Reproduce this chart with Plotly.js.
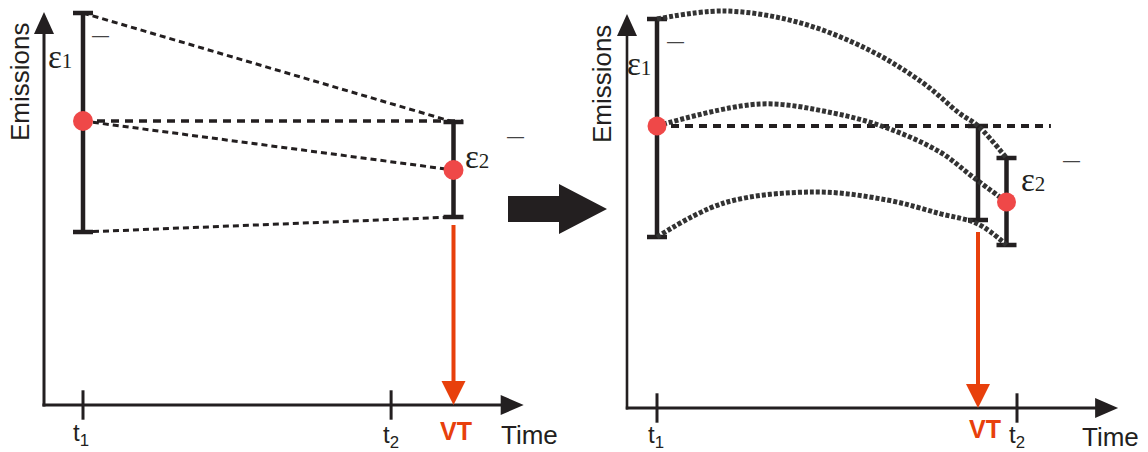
<!DOCTYPE html>
<html>
<head>
<meta charset="utf-8">
<script src="https://cdn.plot.ly/plotly-3.0.1.min.js"></script>
<style>html,body{margin:0;padding:0;background:#fff;}</style>
</head>
<body>
<div id="chart" style="width:1148px;height:452px;"></div>
<script>
// ---------------- DATA ----------------
// Left panel: linear projection
const tickTimesL = [1, 8.9];
const tickLabelsL = ['t<sub>1</sub>', 't<sub>2</sub>'];
const barTimesL = [1, 10.5];
const barMeansL = [71, 58.75];
const barUpperL = [98, 70.75];
const barLowerL = [43.25, 47];
const vtTimeL = 10.5;
const refLineEndL = 10.74;

// Right panel: curved projection
const tickTimesR = [1, 13];
const tickLabelsR = ['t<sub>1</sub>', 't<sub>2</sub>'];
const barTimesR = [1, 11.7, 12.65];
const barUpperR = [97.25, 70.5, 62.5];
const barLowerR = [42.75, 47, 40.75];
const dotTimesR = [1, 12.65];
const dotMeansR = [70.5, 51.5];
const vtTimeR = 11.7;
const refLineEndR = 14.13;
const topCurveT = [1, 3.23, 5.67, 8.07, 9.87, 11.07, 11.7, 12.65];
const topCurveE = [97.25, 99.25, 96.5, 89.5, 81.25, 73.75, 70.5, 62.5];
const midCurveT = [1, 4.43, 6.87, 8.67, 10.43, 11.53, 12.65];
const midCurveE = [70.5, 76, 73.75, 70, 64, 57.75, 51.5];
const lowCurveT = [1, 3.23, 6.27, 8.67, 10.43, 11.7, 12.65];
const lowCurveE = [42.75, 51.25, 54, 52, 48.6, 46, 40.75];

const axisTitleY = 'Emissions';
const axisTitleX = 'Time';
const vtLabel = 'VT';

// ---------------- STYLE ----------------
const INK = '#231f20';
const CURVE = '#333333';
const DOT = '#ef4848';
const VTRED = '#e8400c';

const traces = [];

function line(xs, ys, xa, ya, dash, width, color, shape) {
  traces.push({x: xs, y: ys, xaxis: xa, yaxis: ya, mode: 'lines', hoverinfo: 'skip',
    line: {color: color, width: width, dash: dash, shape: shape || 'linear', smoothing: 1.0}});
}
function errBars(ts, up, lo, xa, ya) {
  const mid = up.map((u, i) => (u + lo[i]) / 2);
  traces.push({x: ts, y: mid, xaxis: xa, yaxis: ya, mode: 'markers', hoverinfo: 'skip',
    marker: {color: 'rgba(0,0,0,0)', size: 1},
    error_y: {type: 'data', symmetric: false,
      array: up.map((u, i) => u - mid[i]), arrayminus: lo.map((l, i) => mid[i] - l),
      color: INK, thickness: 4.5, width: 10}});
}
function dots(ts, ms, xa, ya, size) {
  traces.push({x: ts, y: ms, xaxis: xa, yaxis: ya, mode: 'markers', hoverinfo: 'skip',
    marker: {color: DOT, size: size}});
}
function ticks(ts, xa, ya) {
  traces.push({x: ts, y: ts.map(() => 0), xaxis: xa, yaxis: ya, mode: 'markers', hoverinfo: 'skip',
    marker: {symbol: 'line-ns-open', size: 21, color: INK, line: {color: INK, width: 3}}});
}

// Left panel
line([barTimesL[0], barTimesL[1]], [barUpperL[0], barUpperL[1]], 'x', 'y', '6px,4px', 3, INK);
line([barTimesL[0], refLineEndL], [barMeansL[0], barMeansL[0]], 'x', 'y', '8px,6px', 3.5, INK);
line([barTimesL[0], barTimesL[1]], [barMeansL[0], barMeansL[1]], 'x', 'y', '6px,4px', 3, INK);
line([barTimesL[0], barTimesL[1]], [barLowerL[0], barLowerL[1]], 'x', 'y', '6px,4px', 3, INK);
errBars(barTimesL, barUpperL, barLowerL, 'x', 'y');
dots(barTimesL, barMeansL, 'x', 'y', 20);
ticks(tickTimesL, 'x', 'y');

// Right panel
line([dotTimesR[0], refLineEndR], [dotMeansR[0], dotMeansR[0]], 'x2', 'y2', '8px,6px', 4, INK);
errBars(barTimesR, barUpperR, barLowerR, 'x2', 'y2');
line(topCurveT, topCurveE, 'x2', 'y2', '4px,2px', 5, CURVE, 'spline');
line(midCurveT, midCurveE, 'x2', 'y2', '4px,2px', 5, CURVE, 'spline');
line(lowCurveT, lowCurveE, 'x2', 'y2', '4px,2px', 5, CURVE, 'spline');
dots(dotTimesR, dotMeansR, 'x2', 'y2', 19);
ticks(tickTimesR, 'x2', 'y2');

// ---------------- LAYOUT ----------------
const W = 1148, H = 452;
const px = v => v / W, py = v => 1 - v / H;
// pixels per data unit on each axis (from the axis ranges below)
const SCALE = {x: 39, y: 4, x2: 30, y2: 4};

const shapes = [];
// axis-aligned arrow: a line in data units plus a triangular head sized in pixels
function arrow(xa, ya, x0, y0, x1, y1, color, width, headW, headL) {
  const dx = Math.sign(x1 - x0), dy = Math.sign(y1 - y0);
  const ex = x1 - dx * (headL - 1) / SCALE[xa];
  const ey = y1 - dy * (headL - 1) / SCALE[ya];
  shapes.push({type: 'line', xref: xa, yref: ya, x0: x0, y0: y0, x1: ex, y1: ey,
    line: {color: color, width: width}});
  const h = headW / 2;
  let path;
  if (dy !== 0) path = `M0,0L${-h},${-dy * headL}L${h},${-dy * headL}Z`;
  else path = `M0,0L${-dx * headL},${h}L${-dx * headL},${-h}Z`;
  shapes.push({type: 'path', xref: xa, yref: ya, xsizemode: 'pixel', ysizemode: 'pixel',
    xanchor: x1, yanchor: y1, path: path, fillcolor: color, line: {width: 0}});
}
function label(xa, ya, x, y, text, font, extra) {
  return Object.assign({xref: xa, yref: ya, x: x, y: y, text: text, showarrow: false,
    xanchor: 'center', yanchor: 'middle', font: font}, extra || {});
}
const sans = (s, c, w) => ({family: 'Liberation Sans, Arial, sans-serif', size: s, color: c || INK, weight: w || 'normal'});
const serif = s => ({family: 'Liberation Serif, Times New Roman, serif', size: s, color: INK});
const eps = n => 'ε<span style="font-size:21px">' + n + '</span>';

// left axes + VT arrow
arrow('x', 'y', 0, -0.4, 0, 98.25, INK, 3, 20, 22);
arrow('x', 'y', -0.04, 0, 12.3, 0, INK, 3, 20, 23);
arrow('x', 'y', vtTimeL, 45, vtTimeL, 0, VTRED, 4, 24, 24);
// right axes + VT arrow
arrow('x2', 'y2', 0, -0.35, 0, 98.5, INK, 2.6, 20, 22);
arrow('x2', 'y2', -0.04, 0, 16.37, 0, INK, 2.8, 20, 23);
arrow('x2', 'y2', vtTimeR, 44, vtTimeR, 0, VTRED, 4, 24, 24);

const annotations = [
  // left labels
  label('x', 'y', -0.615, 80.75, axisTitleY, sans(26), {textangle: -90}),
  label('x', 'y', 0.41, 87, eps(1), serif(33)),
  label('x', 'y', 1.46, 92.5, '—', sans(17, '#444')),
  label('x', 'y', 11.1, 62, eps(2), serif(33)),
  label('x', 'y', 12.08, 67.25, '—', sans(17, '#444')),
  label('x', 'y', tickTimesL[0] - 0.05, -7.25, tickLabelsL[0], sans(24)),
  label('x', 'y', tickTimesL[1], -7.75, tickLabelsL[1], sans(24)),
  label('x', 'y', 10.56, -6.5, vtLabel, sans(25, VTRED, 'bold')),
  label('x', 'y', 12.46, -7.5, axisTitleX, sans(26)),
  // right labels
  label('x2', 'y2', -0.83, 81, axisTitleY, sans(26), {textangle: -90}),
  label('x2', 'y2', 0.4, 86, eps(1), serif(33)),
  label('x2', 'y2', 1.63, 91.75, '—', sans(17, '#444')),
  label('x2', 'y2', 13.53, 57, eps(2), serif(33)),
  label('x2', 'y2', 14.8, 62, '—', sans(17, '#444')),
  label('x2', 'y2', tickTimesR[0] - 0.03, -7.0, tickLabelsR[0], sans(24)),
  label('x2', 'y2', tickTimesR[1], -7.0, tickLabelsR[1], sans(24)),
  label('x2', 'y2', 11.93, -5.25, vtLabel, sans(25, VTRED, 'bold')),
  label('x2', 'y2', 16.1, -7.25, axisTitleX, sans(26))
];

const bigArrow = [[508,196],[559,196],[559,184],[607,209],[559,234],[559,222],[508,222]];
shapes.push({
  type: 'path', xref: 'paper', yref: 'paper',
  path: 'M' + bigArrow.map(p => px(p[0]) + ',' + py(p[1])).join('L') + 'Z',
  fillcolor: INK, line: {width: 0}
});

const layout = {
  width: W, height: H, margin: {l: 0, r: 0, t: 0, b: 0},
  paper_bgcolor: '#ffffff', plot_bgcolor: 'rgba(0,0,0,0)', showlegend: false,
  xaxis: {domain: [0, 0.5], range: [-44 / 39, 530 / 39], visible: false, fixedrange: true},
  yaxis: {domain: [0, 1], range: [-47 / 4, 405 / 4], visible: false, fixedrange: true},
  xaxis2: {domain: [0.5, 1], range: [(574 - 627) / 30, (1148 - 627) / 30], visible: false, fixedrange: true, anchor: 'y2'},
  yaxis2: {domain: [0, 1], range: [-44 / 4, 408 / 4], visible: false, fixedrange: true, anchor: 'x2'},
  annotations: annotations, shapes: shapes
};

Plotly.newPlot('chart', traces, layout, {displayModeBar: false, staticPlot: true});
</script>
</body>
</html>
